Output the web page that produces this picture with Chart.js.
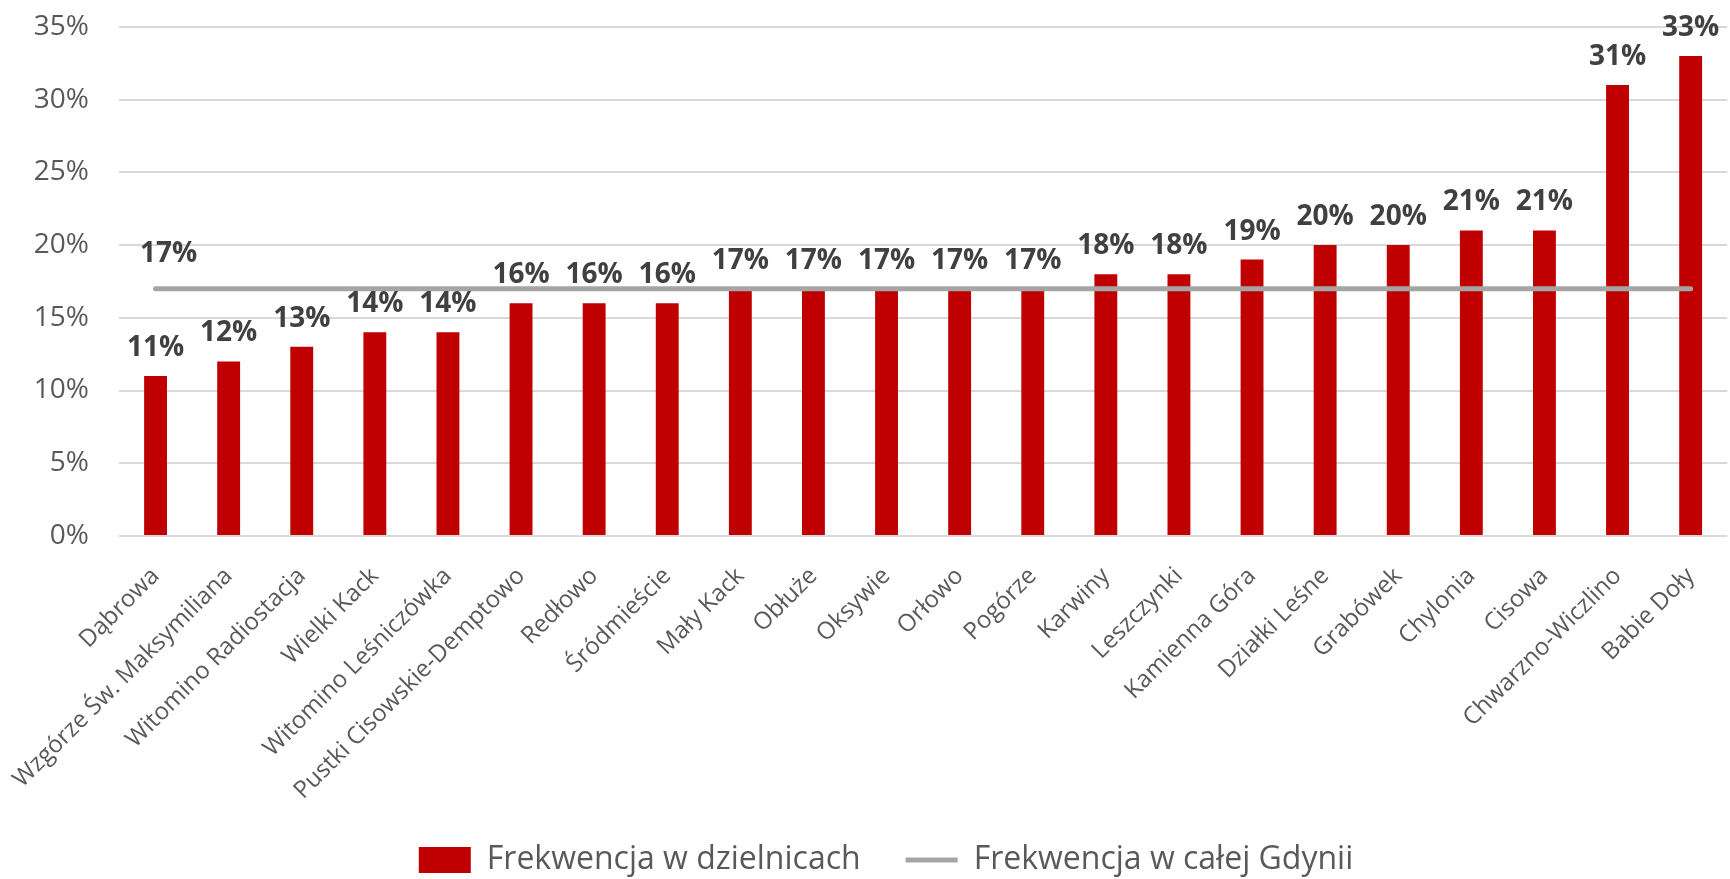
<!DOCTYPE html>
<html>
<head>
<meta charset="utf-8">
<script src="https://cdn.jsdelivr.net/npm/chart.js@4/dist/chart.umd.min.js"></script>
<style>
  html, body { margin: 0; padding: 0; background: #fff; overflow: hidden; }
  #wrap { position: relative; width: 1737px; height: 906px; margin-top: -20px; }
</style>
</head>
<body>
<div id="wrap"><canvas id="chart"></canvas></div>
<script>
// districts, sorted by turnout
const districts = [
    'Dąbrowa', 'Wzgórze Św. Maksymiliana', 'Witomino Radiostacja', 'Wielki Kack',
    'Witomino Leśniczówka', 'Pustki Cisowskie-Demptowo', 'Redłowo', 'Śródmieście',
    'Mały Kack', 'Obłuże', 'Oksywie', 'Orłowo', 'Pogórze', 'Karwiny', 'Leszczynki',
    'Kamienna Góra', 'Działki Leśne', 'Grabówek', 'Chylonia', 'Cisowa',
    'Chwarzno-Wiczlino', 'Babie Doły'
];
const districtTurnout = [11, 12, 13, 14, 14, 16, 16, 16, 17, 17, 17, 17, 17, 18, 18, 19, 20, 20, 21, 21, 31, 33];
const cityTurnout = [17, 17, 17, 17, 17, 17, 17, 17, 17, 17, 17, 17, 17, 17, 17, 17, 17, 17, 17, 17, 17, 17];
const yTicks = [0, 5, 10, 15, 20, 25, 30, 35];

const FONT = '"Open Sans", "DejaVu Sans", sans-serif';

// labels above the bars + one label for the city line
const valueLabels = {
    id: 'valueLabels',
    afterDatasetsDraw(chart) {
        const ctx = chart.ctx;
        ctx.save();
        ctx.font = 'bold 28px ' + FONT;
        ctx.fillStyle = '#404040';
        ctx.textAlign = 'center';
        ctx.textBaseline = 'alphabetic';
        chart.getDatasetMeta(0).data.forEach((bar, i) => {
            ctx.fillText(districtTurnout[i] + '%', bar.x, bar.y - 20);
        });
        const p = chart.getDatasetMeta(1).data[0];
        ctx.fillText(cityTurnout[0] + '%', p.x + 13, p.y - 27);
        ctx.restore();
    }
};

const ctx = document.getElementById('chart');

new Chart(ctx, {
    data: {
        labels: districts,
        datasets: [
            {
                type: 'bar',
                label: 'Frekwencja w dzielnicach',
                data: districtTurnout,
                backgroundColor: '#c00000',
                borderWidth: 0,
                categoryPercentage: 1,
                barPercentage: 0.313,
                pointStyle: 'rect',
                order: 1,
            },
            {
                type: 'line',
                label: 'Frekwencja w całej Gdynii',
                data: cityTurnout,
                borderColor: '#a5a5a5',
                backgroundColor: '#a5a5a5',
                borderWidth: 5,
                borderCapStyle: 'round',
                pointRadius: 0,
                pointStyle: 'line',
                fill: false,
                order: 0,
            },
        ],
    },
    options: {
        responsive: true,
        maintainAspectRatio: false,
        animation: false,
        layout: { padding: { top: 7, left: 35, right: 0, bottom: 0 } },
        plugins: {
            tooltip: { enabled: false },
            legend: {
                position: 'bottom',
                labels: {
                    usePointStyle: true,
                    pointStyleWidth: 52,
                    boxHeight: 26,
                    padding: 45,
                    color: '#595959',
                    font: { family: FONT, size: 32 },
                    sort: (a, b) => a.datasetIndex - b.datasetIndex,
                },
            },
        },
        scales: {
            x: {
                grid: { display: false, drawTicks: false },
                border: { display: false },
                ticks: {
                    color: '#595959',
                    font: { family: FONT, size: 24 },
                    minRotation: 45,
                    maxRotation: 45,
                    autoSkip: false,
                    padding: 26,
                },
                afterFit: (s) => { s.height = 263; },
            },
            y: {
                min: 0,
                max: 35,
                afterBuildTicks: (s) => { s.ticks = yTicks.map(v => ({ value: v })); },
                grid: { color: '#d9d9d9', lineWidth: 2, drawTicks: false },
                border: { display: false },
                ticks: {
                    color: '#595959',
                    font: { family: FONT, size: 28 },
                    padding: 30,
                    callback: (v) => v + '%',
                },
                afterFit: (s) => { s.width = 84; },
            },
        },
    },
    plugins: [valueLabels],
});
</script>
</body>
</html>
